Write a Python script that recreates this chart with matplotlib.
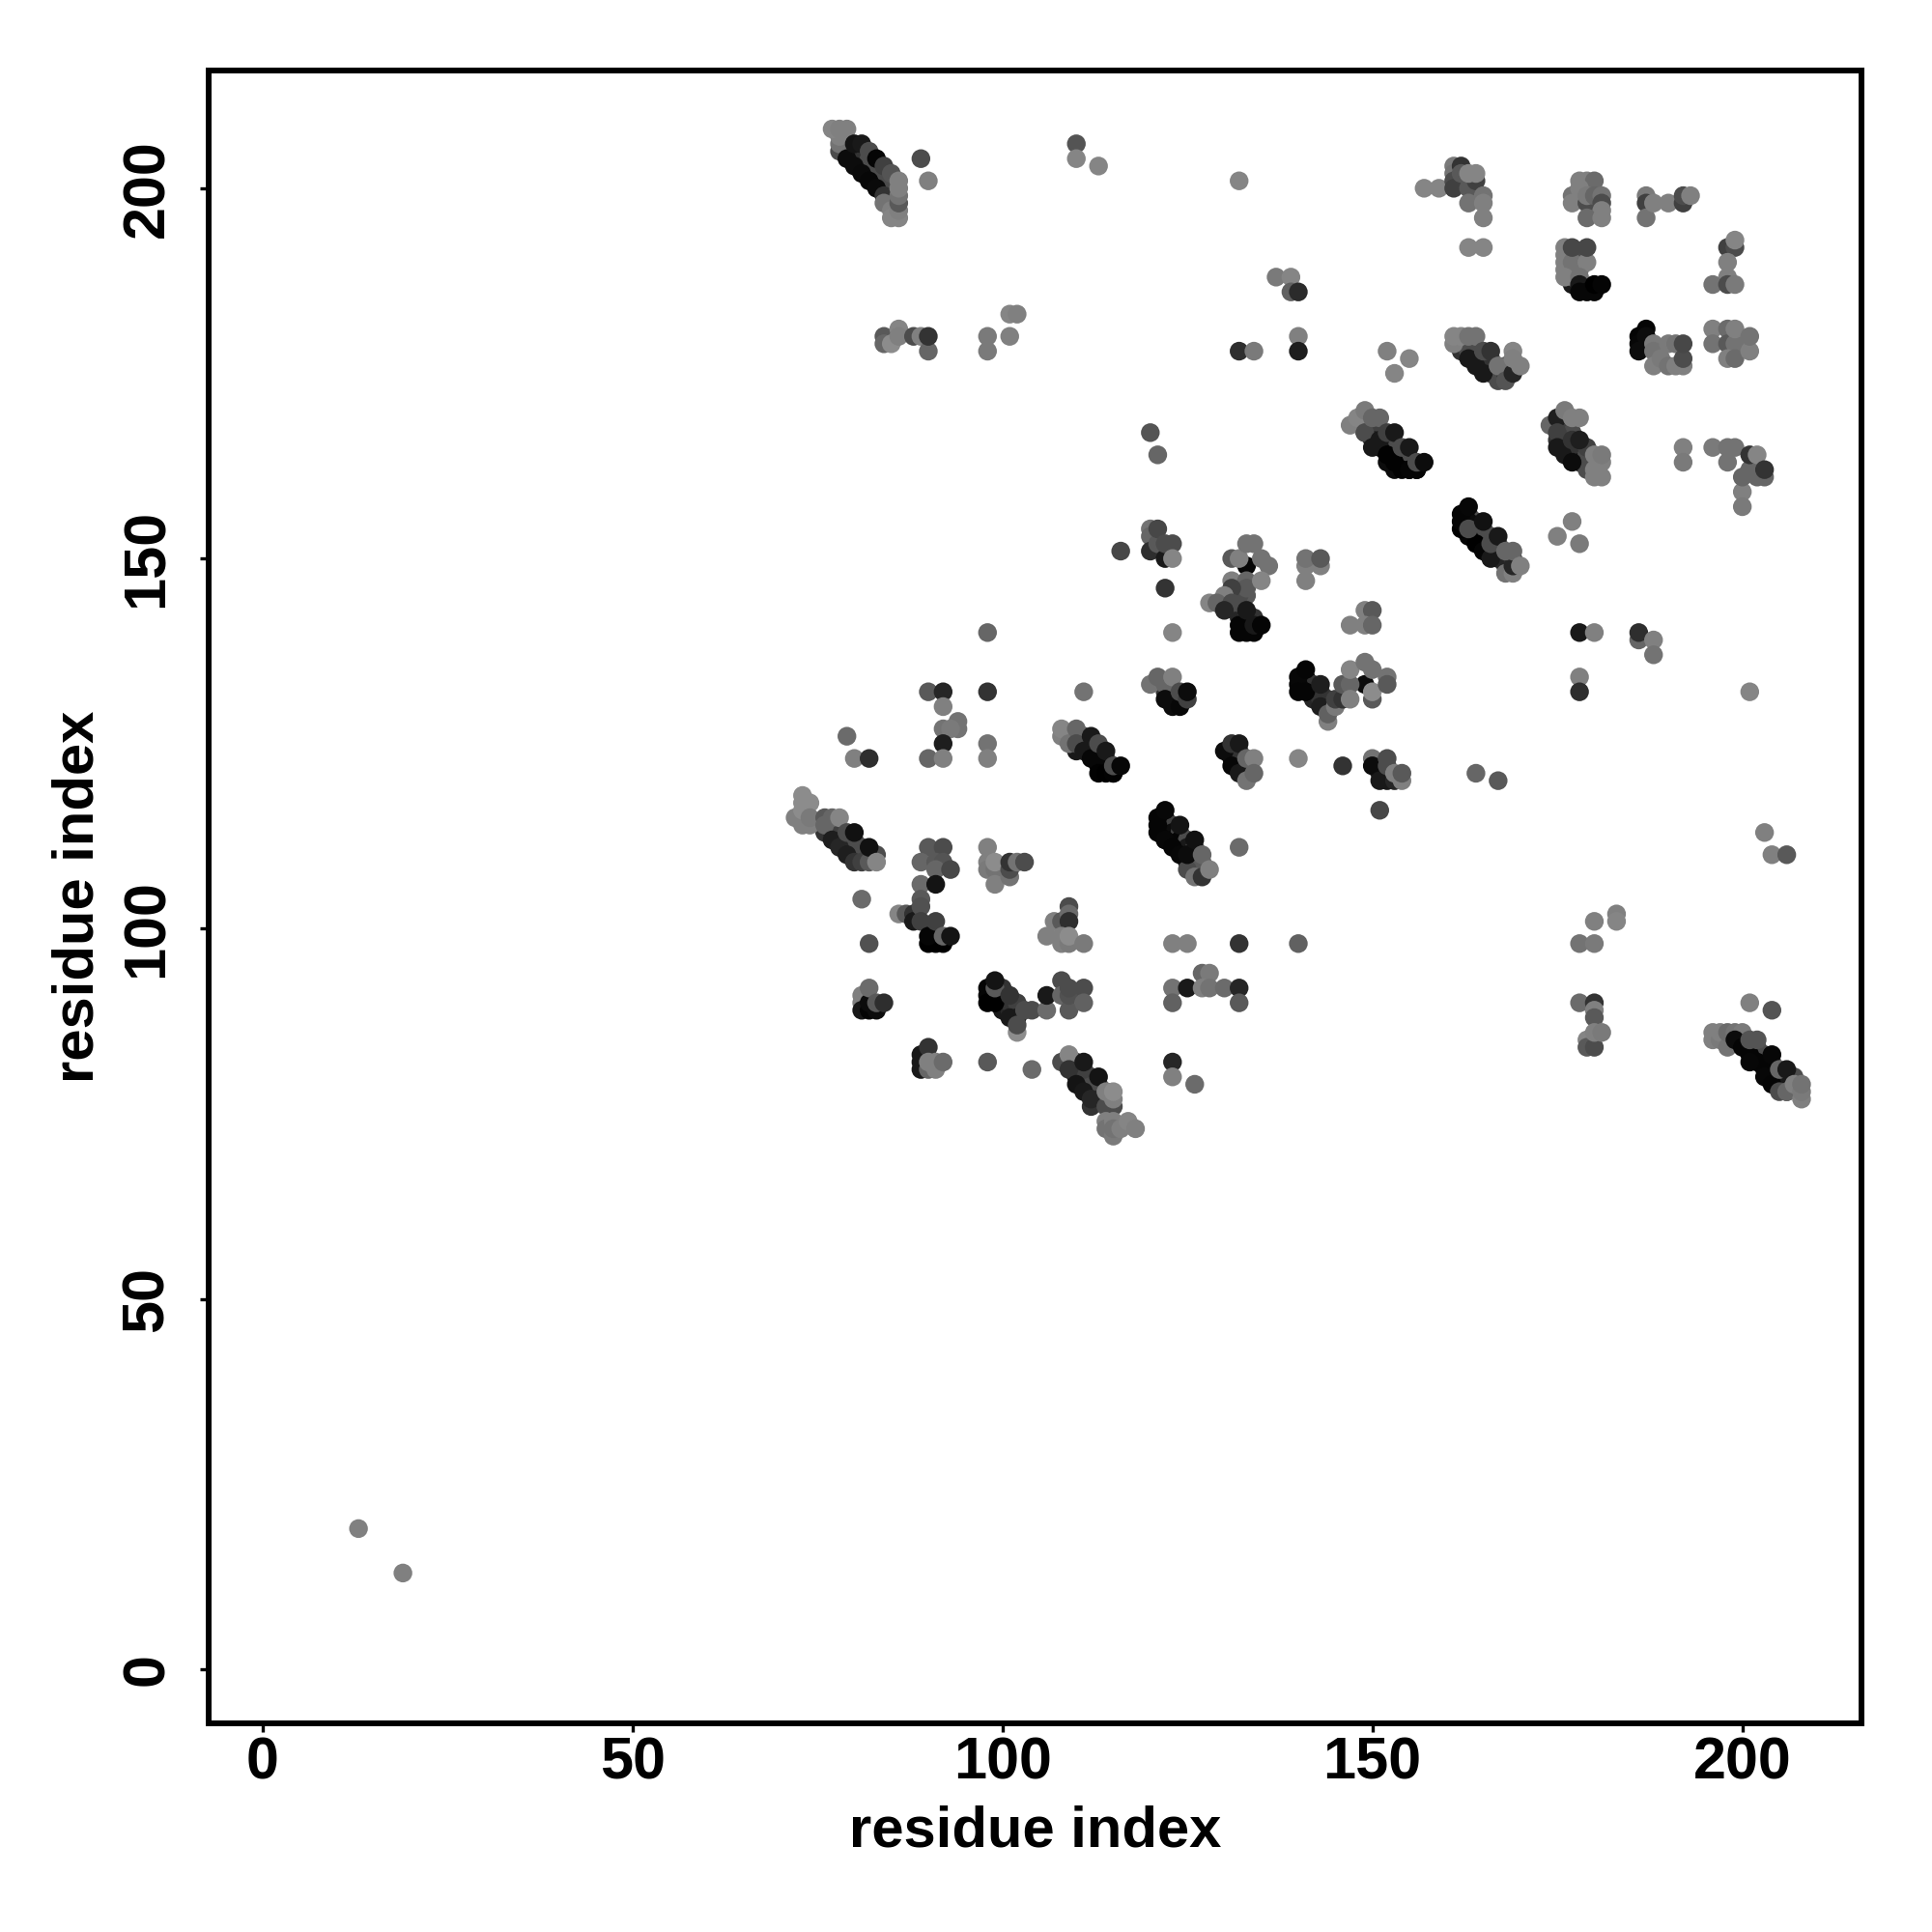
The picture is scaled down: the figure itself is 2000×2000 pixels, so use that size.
import matplotlib
matplotlib.use('Agg')
import matplotlib.pyplot as plt

# contacts as (residue i, residue j, grey level), drawn in this order
lone = [(13,19,.5),(19,13,.5),(89,204,.3),(90,201,.5),(110,206,.33),(110,204,.52),(113,203,.52),(132,201,.52),
        (120,167,.33),(121,164,.4),(81,104,.42),(82,98,.32),(79,126,.42),(80,123,.5),(82,123,.18),(98,140,.4),
        (98,132,.2),(98,125,.45),(98,123,.5),(111,132,.45),(116,151,.28),(122,146,.2),(123,140,.52),(140,123,.52),
        (146,122,.2),(151,116,.28),(164,121,.4),(167,120,.35),(178,140,.1),(180,140,.5),(178,134,.5),(178,132,.18),
        (201,132,.52),(203,113,.5),(204,110,.5),(206,110,.35),(180,101,.5),(183,102,.5),(183,101,.52),(178,98,.45),
        (180,98,.48),(201,90,.5),(204,89,.33),(186,139,.4),(186,140,.18),(188,139,.5),(188,137,.45),(98,82,.35),
        (104,81,.42),(123,82,.15),(123,80,.5),(126,79,.42),(140,98,.38),(123,98,.5),(125,98,.5),(132,98,.2),
        (132,111,.42),(90,132,.35),(92,132,.15),(92,130,.5),(92,127,.45),(94,128,.45),(94,127,.45),(93,127,.48),
        (92,125,.12),(90,123,.4),(92,123,.5)]

# darker contacts inside the strands, hidden under the lighter ones
band_fill = [(79,205,.1),(80,204,.05),(81,203,.05),(82,202,.05),(83,201,.05),(84,200,.1),(80,205,.2),(81,204,.2),(82,203,.25),
             (83,202,.25),(84,201,.25),(85,200,.2),(82,204,.3),(83,203,.3),(84,202,.3),(85,201,.3),(85,199,.3),
             (162,178,.2),(163,178,.3),(164,177,.1),(165,176,.2),(166,175,.2),(164,178,.3),(167,175,.2),(166,177,.3),(165,177,.2),
             (167,174,.3),(168,175,.2),(168,176,.3),
             (149,168,.2),(150,167,.1),(151,166,.05),(152,165,.02),(153,164,.02),(154,163,.02),(155,162,.02),(150,168,.3),(151,167,.25),
             (152,166,.25),(153,165,.3),(154,164,.3),(155,163,.3),(156,162,.05),(149,167,.2),(150,166,.1),(151,165,.05),(152,163,.05),(153,162,.05),
             (176,167,.2),(176,166,.15),(176,165,.1),(176,164,.1),(177,165,.2),(177,164,.1),(178,164,.1),(178,165,.2),(178,163,.1),(179,163,.25),
             (179,162,.3),(179,164,.3),(179,165,.25),(176,168,.25),(177,167,.3),(175,166,.2),
             (163,155,.2),(163,156,.25),(164,154,.1),(164,153,.02),(165,153,.02),(165,152,.02),(166,151,.05),(167,151,.1),(167,150,.15),(168,150,.1),
             (168,149,.15),(164,155,.3),(165,154,.3),(166,153,.3),(167,152,.3),(163,153,.02),(169,150,.2),(163,155,.05),
             (110,126,.3),(111,125,.1),(112,124,.05),(113,123,.05),(114,122,.02),(115,121,.02),(111,126,.3),(112,125,.25),(113,124,.25),
             (114,123,.3),(115,122,.3),(109,126,.4),(110,124,.1),
             (76,113,.2),(77,113,.15),(78,112,.1),(79,112,.15),(78,113,.2),(79,111,.1),(80,110,.1),(80,111,.15),(81,110,.15),(81,111,.3),
             (82,110,.3),(77,114,.25),(83,110,.3),(80,112,.3),
             (122,115,.05),(122,114,.03),(122,113,.03),(123,114,.25),(123,113,.05),(123,112,.02),(124,113,.25),(124,112,.02),(124,111,.02),
             (125,112,.3),(125,111,.1),(126,110,.1),(126,111,.3),(125,109,.1),(126,109,.15),(126,108,.2),(127,109,.35),(127,108,.35),(122,112,.03),
             (109,82,.2),(110,81,.15),(110,80,.1),(111,80,.1),(111,79,.1),(112,79,.2),(112,78,.15),(113,78,.15),(113,79,.3),(114,77,.25),
             (110,82,.3),(112,80,.3),(113,77,.2),(114,78,.3),(111,81,.25),(112,76,.2),
             (200,85,.3),(201,84,.1),(202,83,.05),(203,82,.05),(204,81,.05),(205,80,.1),(206,79,.15),(202,84,.3),(203,83,.3),(204,82,.3),
             (206,80,.35),(207,80,.3),(204,80,.05),(205,79,.1),(206,78,.2),
             (141,134,.03),(141,133,.1),(142,133,.2),(142,132,.2),(142,131,.15),(143,131,.2),(143,132,.2),(144,130,.15),(144,131,.2),
             (99,91,.05),(100,90,.1),(100,89,.1),(101,89,.15),(101,90,.2),(100,91,.2),(102,89,.2),(102,90,.25),(100,92,.2),
             (122,132,.2),(123,131,.15),(123,130,.05),(124,131,.1),(123,132,.3),
             (131,123,.05),(131,124,.1),(132,122,.05),(132,123,.1),(133,122,.1),(133,121,.15),(132,124,.2),
             (151,121,.15),(151,122,.2),(152,121,.2),(152,120,.1),
             (131,145,.3),(132,143,.25),(132,142,.15),(133,142,.2),(133,141,.1),(132,144,.3),(133,145,.35),(134,142,.2),(132,146,.3),(132,145,.3),
             (177,187,.1),(177,188,.4),(178,189,.45),(177,189,.45),(176,189,.5),(177,191,.3),(133,149,.03),(149,133,.05)]

strand_top_left = [(78,205,.3),(78,206,.45),(78,207,.5),(80,203,.05),(79,204,.05),(81,202,.04),(82,201,.03),(83,200,.04),
                   (84,199,.2),(84,198,.45),(85,197,.5),(85,196,.52),(86,196,.52),(86,197,.5),(86,198,.35),(86,199,.45),
                   (77,208,.52),(78,208,.5),(79,208,.5),(80,206,.08),(81,206,.1),(82,205,.3),(83,204,.02),(84,203,.25),
                   (85,202,.33),(86,201,.5),(86,200,.5)]

row_180 = [(84,180,.35),(84,179,.4),(85,179,.55),(86,181,.52),(86,180,.5),(88,180,.3),(89,180,.5),(90,178,.4),(90,180,.2),
           (98,180,.48),(98,178,.48),(101,180,.5),(101,183,.52),(102,183,.5),(132,178,.18),(134,178,.48),(140,180,.5),(140,178,.12),
           (152,178,.5),(155,177,.52),(153,175,.52),(137,188,.48),(139,188,.52),(139,186,.38),(140,186,.17)]

block_160_200 = [(157,200,.52),(159,200,.52),(161,203,.48),(161,202,.45),(161,201,.3),(161,200,.25),(162,203,.2),(162,202,.35),
                 (163,200,.35),(163,198,.45),(164,201,.25),(163,202,.52),(164,202,.52),(165,199,.45),(165,198,.5),(165,196,.5),
                 (163,192,.52),(165,192,.52)]

block_178_200 = [(178,201,.5),(179,201,.5),(180,201,.42),(177,199,.45),(177,198,.5),(178,200,.5),(179,198,.3),(179,199,.48),
                 (180,199,.4),(181,199,.45),(181,198,.3),(181,197,.5),(179,196,.42),(181,196,.5)]

block_187_198 = [(187,199,.48),(187,198,.25),(187,196,.45),(188,198,.5),(190,198,.5),(192,198,.25),(192,199,.3),(193,199,.5)]

block_198_190 = [(198,192,.25),(199,192,.3),(199,193,.52),(198,190,.5),(198,188,.5),(196,187,.45),(198,187,.3),(199,187,.48)]

block_178_188 = [(176,192,.5),(176,191,.5),(176,190,.5),(177,190,.45),(179,190,.5),(176,188,.5),(177,192,.28),(179,192,.28),
                 (178,188,.45),(178,187,.1),(178,186,.03),(179,186,.03),(180,186,.03),(180,187,.0),(181,187,.02)]

block_188_178 = [(187,181,.02),(186,180,.02),(186,179,.03),(186,178,.05),(187,180,.05),(188,179,.48),(188,178,.45),(188,176,.5),
                 (189,177,.48),(190,176,.45),(191,176,.5),(192,176,.5),(190,179,.48),(191,179,.45),(192,177,.3),(192,179,.28)]

block_198_179 = [(196,181,.5),(196,179,.45),(198,181,.42),(198,179,.35),(199,179,.45),(198,177,.5),(199,177,.42),(199,181,.5),
                 (201,178,.5),(201,180,.45)]

strand_162_178 = [(161,179,.5),(161,180,.52),(162,180,.52),(163,177,.1),(164,176,.1),(165,175,.1),(163,180,.45),(164,180,.45),
                  (165,178,.3),(166,178,.2),(167,176,.45),(168,174,.33),(169,175,.15),(169,178,.52),(169,177,.5),(170,176,.5)]

strand_150_165 = [(147,168,.5),(148,169,.52),(149,170,.48),(149,167,.3),(150,165,.1),(151,166,.1),(152,164,.01),(153,163,.01),(154,162,.01),
                  (155,162,.02),(156,162,.02),(150,169,.4),(151,169,.4),(152,167,.25),(153,167,.1),(154,165,.3),(155,165,.1),(156,163,.3),(157,163,.05)]

strand_176_165 = [(174,168,.4),(175,169,.12),(175,167,.25),(175,165,.1),(176,170,.48),(177,169,.5),(178,169,.5),(177,166,.2),(177,163,.05),
                  (178,166,.12),(180,161,.5),(181,161,.5),(180,162,.5),(181,163,.5),(180,164,.5),(181,164,.48)]

block_200_163 = [(192,165,.5),(192,163,.48),(196,165,.48),(198,165,.45),(199,165,.45),(198,163,.45),(200,159,.5),(200,157,.48),
                 (200,161,.4),(202,161,.4),(203,161,.4),(201,162,.4),(201,164,.2),(202,164,.52),(203,162,.2)]

strand_165_152 = [(162,154,.0),(162,155,.02),(162,156,.02),(163,157,.03),(164,152,.0),(165,151,.02),(166,150,.1),(163,154,.3),(165,155,.07),
                  (166,152,.3),(167,153,.1),(168,148,.45),(169,148,.5),(169,149,.15),(168,151,.4),(169,151,.4),(170,149,.5),
                  (177,155,.5),(175,153,.5),(178,152,.48)]

block_122_152 = [(120,154,.45),(120,153,.4),(120,151,.18),(121,152,.35),(122,150,.1),(121,154,.28),(122,152,.3),(123,152,.3),(123,150,.52)]

block_133_146 = [(131,150,.35),(132,150,.5),(133,152,.45),(134,152,.45),(135,150,.45),(136,149,.45),(131,147,.5),
                 (133,147,.4),(133,146,.35),(135,147,.52),(131,146,.25),(130,145,.5),(128,144,.52),(129,144,.4),(131,144,.3),
                 (130,143,.15),(132,141,.02),(132,140,.02),(133,140,.02),(134,140,.02),(133,143,.1),(134,141,.1),(135,141,.02)]

block_142_149 = [(141,149,.5),(141,147,.5),(143,149,.5),(141,150,.45),(143,150,.35),(149,143,.5),(150,143,.35),(147,141,.5),
                 (149,141,.5),(150,141,.4)]

block_145_132 = [(140,134,.03),(140,133,.03),(140,132,.02),(141,132,.02),(141,135,.02),(143,133,.12),(143,130,.12),(144,128,.5),(144,129,.38),
                 (145,130,.48),(145,131,.25),(146,131,.2),(146,133,.35),(147,133,.4),(147,135,.52),(147,131,.5),(150,131,.35),
                 (150,132,.55),(149,136,.45),(150,135,.45),(152,134,.45),(152,133,.35)]

block_122_132 = [(120,133,.45),(121,134,.4),(122,133,.4),(123,134,.5),(122,131,.05),(124,130,.03),(124,132,.3),(125,131,.25),(125,132,.05)]

strand_112_124 = [(108,126,.5),(108,127,.52),(109,125,.45),(110,127,.4),(110,125,.3),(111,124,.1),(112,123,.03),(113,122,.03),(113,121,.01),
                  (114,121,.0),(115,121,.01),(112,126,.1),(113,125,.3),(114,124,.1),(115,122,.3),(116,122,.03)]

block_132_122 = [(130,124,.05),(131,125,.2),(132,125,.1),(131,122,.03),(132,121,.1),(133,120,.45),(133,123,.4),(134,123,.5),(134,121,.4)]

block_152_121 = [(150,123,.45),(150,122,.05),(151,120,.1),(152,123,.3),(152,122,.3),(153,120,.15),(154,120,.5),(153,121,.5),(154,121,.35)]

strand_78_112 = [(72,115,.5),(73,114,.5),(74,114,.5),(73,118,.55),(73,117,.55),(74,117,.55),(73,116,.55),(74,115,.48),(76,115,.35),(76,114,.4),
                 (77,112,.12),(77,115,.4),(78,115,.52),(78,111,.15),(79,110,.12),(80,109,.2),(79,113,.3),(80,113,.07),(81,109,.25),
                 (82,109,.35),(82,111,.07),(83,109,.52)]

block_90_109 = [(90,111,.35),(92,111,.3),(89,109,.4),(91,109,.35),(92,109,.33),(91,108,.4),(93,108,.28),(89,106,.42),(91,106,.08)]

block_90_100 = [(86,102,.52),(87,102,.35),(88,102,.2),(88,101,.1),(89,104,.35),(89,103,.32),(89,101,.25),(90,98,.0),(91,98,.0),(92,98,.0),
                (90,99,.02),(91,101,.25),(92,99,.4),(93,99,.08)]

block_100_108 = [(98,111,.5),(98,109,.5),(98,108,.48),(99,108,.45),(99,106,.5),(99,109,.55),(101,107,.45),(101,108,.3),(101,109,.2),
                 (102,109,.45),(103,109,.3)]

block_108_100 = [(106,99,.5),(107,101,.5),(108,101,.35),(109,103,.3),(109,102,.42),(109,101,.18),(108,99,.5),(108,98,.5),(109,98,.48),
                 (109,99,.55),(111,98,.48)]

block_83_90 = [(81,91,.5),(81,90,.5),(81,89,.1),(82,89,.02),(83,89,.05),(82,90,.05),(82,92,.42),(83,90,.35),(84,90,.18)]

block_100_90 = [(98,92,.02),(98,91,.02),(98,90,.0),(99,90,.0),(99,92,.35),(99,93,.08),(101,91,.2),(101,88,.1),(102,88,.1),(102,86,.55),
                (102,87,.3),(103,89,.3),(104,89,.3)]

block_109_91 = [(106,89,.42),(106,91,.1),(108,93,.3),(108,91,.4),(109,89,.35),(109,91,.32),(109,92,.3),(111,92,.3),(111,90,.38)]

block_127_92 = [(123,92,.45),(123,90,.38),(125,92,.1),(127,94,.4),(128,94,.48),(127,92,.5),(128,92,.45),(130,92,.42),(132,92,.15),(132,90,.35)]

block_90_82 = [(89,83,.1),(89,82,.1),(89,81,.1),(90,84,.2),(90,81,.4),(91,81,.5),(90,82,.5),(91,82,.5),(92,82,.42)]

strand_112_78 = [(108,82,.3),(109,83,.52),(109,81,.2),(110,79,.08),(111,78,.1),(112,77,.15),(111,82,.1),(113,80,.08),(114,76,.3),(115,76,.3),
                 (114,78,.5),(115,77,.5),(115,78,.55),(114,74,.5),(114,73,.45),(115,72,.48),(115,74,.5),(115,73,.45),(116,73,.5),(117,74,.52),(118,73,.5)]

strand_124_112 = [(121,115,.02),(121,114,.02),(121,113,.02),(122,112,.03),(122,116,.03),(123,111,.02),(124,110,.03),(125,108,.3),(126,107,.45),
                  (127,107,.2),(125,110,.05),(124,114,.08),(126,112,.07),(127,110,.4),(128,108,.5)]

block_180_86 = [(178,90,.42),(180,90,.2),(180,89,.5),(180,88,.35),(179,85,.52),(179,84,.35),(180,84,.3),(180,86,.5),(181,86,.48)]

strand_200_84 = [(196,85,.5),(196,86,.5),(197,85,.48),(197,86,.5),(198,84,.45),(198,86,.42),(199,86,.45),(200,86,.48),(199,85,.05),(200,84,.02),
                 (201,83,.02),(202,82,.02),(203,81,.02),(203,80,.03),(204,79,.02),(205,78,.3),(206,78,.4),(201,85,.33),(202,85,.33),(201,82,.03),
                 (204,83,.03),(205,81,.4),(206,81,.1),(207,79,.5),(208,77,.5),(208,78,.48),(208,79,.45)]

groups = [lone, band_fill, strand_top_left, row_180, block_160_200, block_178_200, block_187_198, block_198_190, block_178_188,
          block_188_178, block_198_179, strand_162_178, strand_150_165, strand_176_165, block_200_163, strand_165_152,
          block_122_152, block_133_146, block_142_149, block_145_132, block_122_132, strand_112_124, block_132_122,
          block_152_121, strand_78_112, block_90_109, block_90_100, block_100_108, block_108_100, block_83_90,
          block_100_90, block_109_91, block_127_92, block_90_82, strand_112_78, strand_124_112, block_180_86, strand_200_84]

plt.rcParams['font.family'] = ['Liberation Sans', 'DejaVu Sans']
plt.rcParams['font.weight'] = 'bold'

fig = plt.figure(figsize=(20, 20), dpi=100)
ax = fig.add_axes([216/2000., 1 - 1784/2000., (1927-216)/2000., (1784-73)/2000.])

for g in groups:
    ax.scatter([p[0] for p in g], [p[1] for p in g], c=[p[2] for p in g], cmap='gray',
               vmin=0, vmax=1, s=195, linewidths=0, zorder=3)

ax.set_xlim(-7.25, 216.1)
ax.set_ylim(-7.3, 215.9)
ax.set_xticks([0, 50, 100, 150, 200])
ax.set_yticks([0, 50, 100, 150, 200])
for s in ax.spines.values():
    s.set_linewidth(4.3)
ax.tick_params(length=6.5, width=2.4, labelsize=44, direction='out')
ax.tick_params(axis='x', pad=3)
ax.tick_params(axis='y', pad=18, labelrotation=90)
for t in ax.get_yticklabels():
    t.set_va('center')
ax.set_xlabel('residue index', fontsize=43, fontweight='bold', labelpad=10)
ax.set_ylabel('residue index', fontsize=43, fontweight='bold', labelpad=12)

fig.savefig('out.png', dpi=100, facecolor='white')
